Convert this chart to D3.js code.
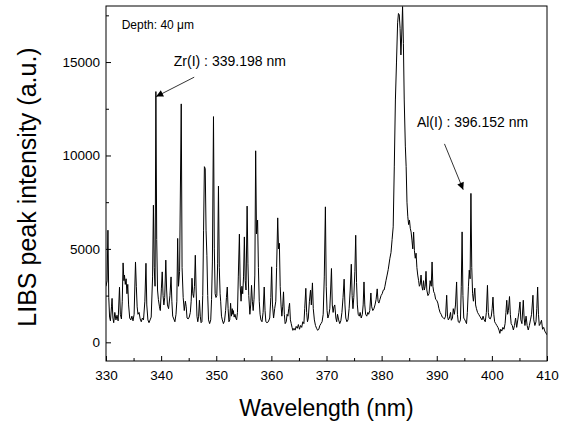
<!DOCTYPE html>
<html>
<head>
<meta charset="utf-8">
<script src="https://cdn.jsdelivr.net/npm/d3@7"></script>
<style>
  body { margin: 0; background: #fff; }
  svg text { font-family: Arial, "Liberation Sans", sans-serif; fill: #000; }
</style>
</head>
<body>
<div id="chart"></div>
<script>
// wavelength (nm) / intensity (a.u.)
var wavelength = [
  330.0, 330.2, 330.35, 330.5, 330.65, 330.8, 331.0, 331.1, 331.25, 331.4, 331.6, 331.8, 332.0, 332.2, 332.45, 332.6, 332.8, 332.95,
  333.1, 333.25, 333.35, 333.5, 333.65, 333.8, 333.95, 334.1, 334.3, 334.5, 334.7, 334.9, 335.1, 335.35, 335.5, 335.65, 335.8, 336.0,
  336.2, 336.4, 336.6, 336.8, 337.05, 337.25, 337.4, 337.6, 337.8, 338.0, 338.2, 338.45, 338.6, 338.75, 338.9, 339.05, 339.2, 339.35,
  339.5, 339.7, 339.85, 340.05, 340.2, 340.35, 340.5, 340.65, 340.85, 341.0, 341.15, 341.35, 341.6, 341.8, 341.95, 342.1, 342.3, 342.5,
  342.7, 342.85, 343.0, 343.15, 343.35, 343.65, 343.8, 344.0, 344.2, 344.4, 344.55, 344.7, 344.9, 345.1, 345.3, 345.45, 345.6, 345.75,
  345.9, 346.05, 346.2, 346.35, 346.5, 346.65, 346.8, 346.95, 347.1, 347.25, 347.4, 347.55, 347.7, 347.85, 348.0, 348.15, 348.3, 348.45,
  348.6, 348.8, 349.0, 349.15, 349.3, 349.5, 349.65, 349.8, 349.95, 350.1, 350.25, 350.4, 350.55, 350.7, 350.8, 350.95, 351.1, 351.3,
  351.5, 351.7, 351.85, 352.0, 352.15, 352.3, 352.45, 352.6, 352.75, 352.9, 353.0, 353.1, 353.25, 353.4, 353.55, 353.7, 353.85, 354.0,
  354.2, 354.35, 354.5, 354.65, 354.8, 354.95, 355.1, 355.25, 355.4, 355.6, 355.75, 355.9, 356.1, 356.25, 356.4, 356.55, 356.7, 356.85,
  357.0, 357.15, 357.3, 357.5, 357.65, 357.8, 357.95, 358.1, 358.3, 358.5, 358.7, 358.85, 359.0, 359.2, 359.45, 359.7, 359.9, 360.05,
  360.2, 360.4, 360.6, 360.8, 360.95, 361.15, 361.3, 361.45, 361.6, 361.75, 361.9, 362.05, 362.2, 362.35, 362.5, 362.7, 362.85, 363.0,
  363.15, 363.3, 363.45, 363.6, 363.75, 363.9, 364.1, 364.3, 364.5, 364.7, 364.9, 365.1, 365.3, 365.5, 365.7, 365.9, 366.05, 366.25,
  366.4, 366.55, 366.7, 366.9, 367.1, 367.25, 367.45, 367.6, 367.8, 368.0, 368.2, 368.4, 368.6, 368.8, 369.0, 369.2, 369.4, 369.6,
  369.8, 369.95, 370.1, 370.25, 370.45, 370.6, 370.75, 370.9, 371.05, 371.2, 371.35, 371.5, 371.7, 371.85, 372.0, 372.2, 372.4, 372.6,
  372.8, 373.0, 373.2, 373.35, 373.5, 373.7, 373.9, 374.1, 374.3, 374.5, 374.65, 374.8, 374.95, 375.15, 375.3, 375.45, 375.6, 375.75,
  375.95, 376.1, 376.3, 376.5, 376.65, 376.8, 376.95, 377.1, 377.3, 377.5, 377.65, 377.85, 378.05, 378.2, 378.4, 378.6, 378.8, 379.0,
  379.2, 379.35, 379.5, 379.7, 379.9, 380.1, 380.3, 380.45, 380.6, 380.8, 381.0, 381.2, 381.5, 381.7, 381.9, 382.1, 382.3, 382.5,
  382.7, 382.9, 383.05, 383.2, 383.35, 383.5, 383.65, 383.8, 383.95, 384.1, 384.3, 384.45, 384.6, 384.75, 384.9, 385.05, 385.2, 385.35,
  385.5, 385.65, 385.8, 385.95, 386.1, 386.25, 386.4, 386.55, 386.7, 386.85, 387.0, 387.15, 387.3, 387.45, 387.6, 387.75, 387.9, 388.05,
  388.2, 388.4, 388.6, 388.8, 389.0, 389.15, 389.3, 389.45, 389.6, 389.8, 390.0, 390.2, 390.4, 390.6, 390.8, 391.0, 391.2, 391.4,
  391.6, 391.8, 391.95, 392.1, 392.3, 392.5, 392.65, 392.85, 393.0, 393.2, 393.4, 393.6, 393.75, 393.9, 394.1, 394.3, 394.45, 394.6,
  394.75, 394.9, 395.1, 395.25, 395.4, 395.55, 395.75, 395.9, 396.05, 396.2, 396.35, 396.5, 396.65, 396.9, 397.05, 397.2, 397.4, 397.6,
  397.8, 398.0, 398.2, 398.4, 398.6, 398.8, 399.0, 399.2, 399.35, 399.5, 399.7, 399.9, 400.05, 400.2, 400.35, 400.5, 400.7, 400.9,
  401.1, 401.3, 401.45, 401.6, 401.8, 402.0, 402.2, 402.4, 402.55, 402.7, 402.85, 403.0, 403.2, 403.35, 403.5, 403.7, 403.9, 404.1,
  404.3, 404.5, 404.7, 404.9, 405.1, 405.25, 405.45, 405.7, 405.85, 406.0, 406.2, 406.4, 406.6, 406.8, 407.0, 407.2, 407.45, 407.6,
  407.8, 408.0, 408.15, 408.3, 408.45, 408.6, 408.8, 409.0, 409.2, 409.4, 409.6, 409.8, 410.0
];
var intensity = [
  3000, 3300, 6000, 2400, 1350, 1150, 1900, 2350, 1300, 1050, 1600, 1200, 1450, 1150, 2950, 1500, 1250, 2200,
  4250, 3300, 3600, 3100, 3400, 2600, 3100, 2000, 1300, 1200, 1400, 1150, 1500, 4300, 3000, 1900, 1500, 1600,
  1250, 1100, 1300, 1200, 2200, 4230, 2000, 1200, 1050, 1200, 1350, 3500, 7340, 4000, 3000, 13420, 5500, 2800,
  2300, 1900, 1700, 2900, 3770, 2500, 2000, 2400, 4400, 2800, 2000, 1800, 2500, 3500, 2200, 1400, 1250, 1100,
  1500, 2200, 5560, 3000, 3800, 12760, 4000, 2400, 1700, 2200, 1900, 1300, 1250, 1350, 1600, 2200, 3430, 2600,
  2400, 3000, 4660, 2800, 1400, 1100, 1400, 2250, 1400, 1050, 1100, 2500, 6000, 9400, 9300, 6000, 4660, 2500,
  1200, 1000, 1200, 2300, 4300, 12080, 5000, 2600, 2400, 2500, 4200, 8360, 4000, 2600, 2200, 1400, 1200, 1000,
  1150, 1700, 2400, 2960, 1800, 1100, 1200, 2090, 1400, 1800, 1500, 1700, 1350, 1500, 1300, 1200, 1600, 3500,
  5790, 3000, 2200, 3000, 2600, 3500, 5640, 3300, 2800, 7290, 4200, 2500, 1500, 2000, 3050, 2200, 1700, 2300,
  3600, 10250, 5800, 6540, 4000, 2200, 1500, 1200, 1100, 1600, 2960, 1700, 1100, 1050, 1100, 1300, 2400, 4040,
  2000, 1300, 1800, 2200, 4000, 6660, 5000, 5300, 3000, 2000, 1400, 1900, 2700, 1500, 1000, 1100, 1500, 1400,
  1800, 2090, 1200, 1000, 800, 640, 750, 650, 850, 750, 950, 700, 900, 800, 1100, 1000, 1800, 2890,
  1600, 1100, 1300, 2200, 2790, 2000, 3180, 1800, 1200, 900, 750, 640, 700, 900, 1000, 1100, 1500, 3500,
  7250, 3000, 1700, 1300, 1500, 1800, 2800, 3950, 2000, 1600, 1900, 2000, 1300, 1100, 1500, 1200, 1000, 1150,
  1600, 2400, 3380, 2000, 1300, 1100, 1200, 1800, 2800, 4180, 2500, 1800, 2400, 3800, 5730, 3200, 2000, 1500,
  1400, 1600, 1300, 1500, 2000, 3230, 2000, 1500, 1400, 1600, 1500, 1700, 2640, 1900, 1700, 1800, 2000, 2300,
  2860, 2200, 2100, 2300, 2500, 2600, 2790, 2800, 3000, 3320, 3600, 3900, 4500, 4800, 5500, 6180, 9430, 12970,
  15000, 17100, 17600, 17530, 16800, 15380, 16500, 17970, 16000, 12970, 10500, 9400, 7500, 6720, 6300, 6540, 6100, 5900,
  5470, 5000, 5900, 4900, 4500, 4770, 4000, 3600, 3320, 3000, 3100, 3600, 3000, 2790, 3300, 2800, 3000, 3800,
  2800, 2500, 2600, 3300, 3000, 4300, 3000, 2700, 2620, 2300, 2250, 2100, 1800, 1600, 1500, 1350, 1300, 1250,
  1400, 2520, 1400, 1200, 1300, 1600, 1180, 1300, 1800, 1500, 2000, 3230, 1500, 1100, 1050, 1200, 3000, 5910,
  2500, 1300, 1200, 1100, 1000, 1600, 3000, 3860, 3400, 7970, 4000, 2600, 2200, 2900, 2000, 1800, 1600, 1500,
  1400, 1300, 1200, 1400, 1200, 1100, 1600, 3050, 1600, 1300, 1250, 1400, 1800, 2420, 1500, 1100, 1000, 900,
  800, 650, 480, 700, 600, 800, 700, 1000, 1600, 2250, 1500, 1700, 2450, 1500, 1000, 900, 660, 900,
  1300, 800, 1200, 1600, 2160, 1200, 1000, 2250, 1300, 900, 1400, 900, 660, 900, 1200, 1500, 2520, 1200,
  900, 1100, 1800, 2960, 1500, 900, 1000, 1180, 700, 800, 600, 500, 400
];

var xTicks = [330, 340, 350, 360, 370, 380, 390, 400, 410];
var xMinorTicks = [335, 345, 355, 365, 375, 385, 395, 405];
var yTicks = [0, 5000, 10000, 15000];
var yMinorTicks = [2500, 7500, 12500, 17500];

// peak labels: text anchor and arrow tail -> tip, in data units
var notes = [
  { label: "Zr(I) : 339.198 nm", tx: 342.3, ty: 14800, x1: 346.0, y1: 14190, x2: 339.1, y2: 13150 },
  { label: "Al(I) : 396.152 nm", tx: 386.4, ty: 11520, x1: 391.4, y1: 10620, x2: 394.8, y2: 8170 }
];

var margin = {top: 6, right: 21, bottom: 60, left: 106},
    width = 568 - margin.left - margin.right,
    height = 355;

var svg = d3.select("#chart")
  .append("svg")
    .attr("width", 568)
    .attr("height", 421);

var g = svg.append("g")
    .attr("transform", "translate(" + margin.left + "," + margin.top + ")");

var x = d3.scaleLinear().domain([330, 410]).range([0, width]);
var y = d3.scaleLinear().domain([-1000, 18000]).range([height, 0]);

g.append("clipPath").attr("id", "clip")
  .append("rect").attr("width", width).attr("height", height);

// spectrum
var pts = wavelength.map(function(d, i) { return [d, intensity[i]]; });
g.append("path")
    .datum(pts)
    .attr("clip-path", "url(#clip)")
    .attr("fill", "none")
    .attr("stroke", "#000")
    .attr("stroke-width", 1)
    .attr("stroke-linejoin", "round")
    .attr("d", d3.line()
      .x(function(d) { return x(d[0]); })
      .y(function(d) { return y(d[1]); }));

// axes, ticks inward
g.append("g")
    .attr("transform", "translate(0," + height + ")")
    .call(d3.axisBottom(x).tickValues(xTicks).tickSize(-5).tickSizeOuter(0).tickPadding(9).tickFormat(d3.format("d")));
g.append("g")
    .attr("transform", "translate(0," + height + ")")
    .call(d3.axisBottom(x).tickValues(xMinorTicks).tickSize(-3).tickSizeOuter(0).tickFormat(""));
g.append("g")
    .call(d3.axisLeft(y).tickValues(yTicks).tickSize(-5).tickSizeOuter(0).tickPadding(6).tickFormat(d3.format("d")));
g.append("g")
    .call(d3.axisLeft(y).tickValues(yMinorTicks).tickSize(-3).tickSizeOuter(0).tickFormat(""));

g.selectAll(".tick text").style("font-size", "13.5px").style("font-family", "Arial, 'Liberation Sans', sans-serif");
g.selectAll(".domain").remove();
g.selectAll(".tick line").attr("stroke", "#000");

// frame
g.append("rect")
    .attr("width", width)
    .attr("height", height)
    .attr("fill", "none")
    .attr("stroke", "#000")
    .attr("stroke-width", 1);

// axis titles
svg.append("text")
    .attr("x", margin.left + width / 2)
    .attr("y", 416)
    .attr("text-anchor", "middle")
    .style("font-size", "23px")
    .text("Wavelength (nm)");

svg.append("text")
    .attr("transform", "translate(36," + (margin.top + 181) + ") rotate(-90)")
    .attr("text-anchor", "middle")
    .style("font-size", "25px")
    .text("LIBS peak intensity (a.u.)");

// depth note
g.append("text")
    .attr("x", x(332.85))
    .attr("y", y(16780))
    .style("font-size", "12px")
    .text("Depth: 40 \u03bcm");

// arrow head
svg.append("defs").append("marker")
    .attr("id", "arrow")
    .attr("viewBox", "0 0 10 10")
    .attr("refX", 10).attr("refY", 5)
    .attr("markerWidth", 9).attr("markerHeight", 7)
    .attr("markerUnits", "userSpaceOnUse")
    .attr("orient", "auto")
  .append("path")
    .attr("d", "M0,0 L10,5 L0,10 z")
    .attr("fill", "#000");

var note = g.selectAll(".note").data(notes).enter().append("g").attr("class", "note");
note.append("text")
    .attr("x", function(d) { return x(d.tx); })
    .attr("y", function(d) { return y(d.ty); })
    .style("font-size", "14px")
    .text(function(d) { return d.label; });
note.append("line")
    .attr("x1", function(d) { return x(d.x1); })
    .attr("y1", function(d) { return y(d.y1); })
    .attr("x2", function(d) { return x(d.x2); })
    .attr("y2", function(d) { return y(d.y2); })
    .attr("stroke", "#000")
    .attr("stroke-width", 0.8)
    .attr("marker-end", "url(#arrow)");
</script>
</body>
</html>
